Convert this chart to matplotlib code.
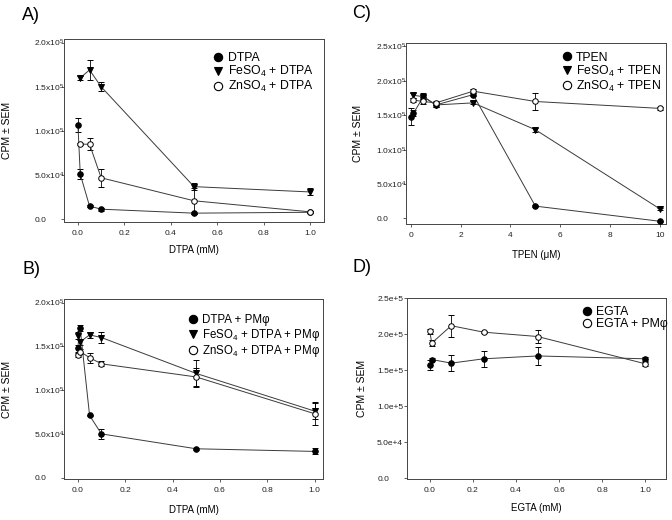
import matplotlib
matplotlib.use('Agg')
import matplotlib.pyplot as plt
from matplotlib.ticker import FixedLocator, FixedFormatter
from matplotlib.lines import Line2D

plt.rcParams['font.family'] = ['Liberation Sans', 'DejaVu Sans']
plt.rcParams['mathtext.default'] = 'regular'

# ---------------- Panel A ----------------
a_dtpa_x = [0, 0.01, 0.05, 0.1, 0.5, 1.0]
a_dtpa_y = [107000, 51000, 15000, 11500, 7000, 8000]
a_dtpa_e = [8000, 5500, 1500, 1500, 1000, 1000]
a_fe_x = [0.01, 0.05, 0.1, 0.5, 1.0]
a_fe_y = [160000, 169000, 150000, 37000, 31000]
a_fe_e = [2000, 11000, 5000, 4000, 4000]
a_zn_x = [0.01, 0.05, 0.1, 0.5, 1.0]
a_zn_y = [85000, 85000, 47000, 21000, 8500]
a_zn_e = [1000, 7000, 10000, 15000, 1000]
a_labels = ['DTPA', 'FeSO$_4$ + DTPA', 'ZnSO$_4$ + DTPA']

# ---------------- Panel B ----------------
b_dtpa_x = [0, 0.01, 0.05, 0.1, 0.5, 1.0]
b_dtpa_y = [148000, 171000, 71000, 50000, 33000, 30000]
b_dtpa_e = [4000, 3000, 1000, 5500, 1000, 3500]
b_fe_x = [0, 0.01, 0.05, 0.1, 0.5, 1.0]
b_fe_y = [162000, 155000, 163000, 160000, 119000, 76000]
b_fe_e = [4000, 3000, 3500, 6000, 15000, 9000]
b_zn_x = [0, 0.01, 0.05, 0.1, 0.5, 1.0]
b_zn_y = [140000, 144000, 137000, 130000, 115000, 73000]
b_zn_e = [2000, 3000, 5500, 3000, 10000, 13000]
b_labels = ['DTPA + PMφ', 'FeSO$_4$ + DTPA + PMφ', 'ZnSO$_4$ + DTPA + PMφ']

# ---------------- Panel C ----------------
c_tpen_x = [0, 0.1, 0.5, 1, 2.5, 5, 10]
c_tpen_y = [148000, 153000, 177000, 165000, 180000, 18000, -4000]
c_tpen_e = [12000, 4000, 3000, 3000, 2000, 1500, 1000]
c_fe_x = [0.1, 0.5, 1, 2.5, 5, 10]
c_fe_y = [179000, 177000, 165000, 168000, 129000, 14000]
c_fe_e = [4000, 5000, 3000, 2000, 3000, 1500]
c_zn_x = [0.1, 0.5, 1, 2.5, 5, 10]
c_zn_y = [172000, 170000, 168000, 185000, 170000, 160000]
c_zn_e = [3000, 4000, 3000, 3000, 13000, 2500]
c_labels = ['TPEN', 'FeSO$_4$ + TPEN', 'ZnSO$_4$ + TPEN']

# ---------------- Panel D ----------------
d_egta_x = [0, 0.01, 0.1, 0.25, 0.5, 1.0]
d_egta_y = [158000, 165000, 160000, 166000, 170000, 166000]
d_egta_e = [7000, 2000, 11000, 11000, 12000, 3000]
d_pm_x = [0, 0.01, 0.1, 0.25, 0.5, 1.0]
d_pm_y = [204000, 188000, 212000, 203000, 197000, 159000]
d_pm_e = [4000, 4000, 15000, 1500, 9000, 3000]
d_labels = ['EGTA', 'EGTA + PMφ']

sup_ticks = [0, 50000, 100000, 150000, 200000, 250000]
sup_labels = ['0.0', '5.0x10$^4$', '1.0x10$^5$', '1.5x10$^5$', '2.0x10$^5$', '2.5x10$^5$']
e_labels = ['0.0', '5.0e+4', '1.0e+5', '1.5e+5', '2.0e+5', '2.5e+5']
x01 = [0.0, 0.2, 0.4, 0.6, 0.8, 1.0]
x01l = ['0.0', '0.2', '0.4', '0.6', '0.8', '1.0']
x10 = [0, 2, 4, 6, 8, 10]
x10l = ['0', '2', '4', '6', '8', '10']

W, H = 672, 520
fig = plt.figure(figsize=(6.72, 5.2), dpi=100)

def mk_ax(l, t, r, b):
    return fig.add_axes([l / W, 1 - b / H, (r - l) / W, (b - t) / H])

STY = {
    'filled_circle': dict(marker='o', mfc='black', mec='black'),
    'tri': dict(marker='v', mfc='black', mec='black'),
    'open_circle': dict(marker='o', mfc='white', mec='black'),
}

def series(ax, x, y, e, kind, label):
    return ax.errorbar(x, y, yerr=e, color='#3a3a3a', lw=0.7, ms=4, mew=0.7,
                       ecolor='black', elinewidth=0.6, capsize=2.3, capthick=0.6,
                       label=label, zorder=3, **STY[kind])

def style(ax, xlim, ylim, xticks, xticklabels, yticks, yticklabels,
          xlabel, xl_y, yl_x):
    ax.set_xlim(*xlim)
    ax.set_ylim(*ylim)
    ax.xaxis.set_major_locator(FixedLocator(xticks))
    ax.xaxis.set_major_formatter(FixedFormatter(xticklabels))
    ax.yaxis.set_major_locator(FixedLocator(yticks))
    ax.yaxis.set_major_formatter(FixedFormatter(yticklabels))
    for s in ax.spines.values():
        s.set_color('#444444')
        s.set_linewidth(0.7)
    ax.tick_params(axis='x', direction='out', length=2.5, width=0.6,
                   labelsize=6, pad=3, colors='#444444', labelcolor='#222222')
    ax.tick_params(axis='y', direction='out', length=2.5, width=0.6,
                   labelsize=6, pad=19, colors='#444444', labelcolor='#222222')
    for lbl in ax.get_yticklabels():
        lbl.set_horizontalalignment('left')
    ax.set_xlabel(xlabel, fontsize=7)
    ax.set_ylabel('CPM ± SEM', fontsize=7.5)
    ax.xaxis.set_label_coords(0.5, xl_y)
    ax.yaxis.set_label_coords(yl_x, 0.5)

def place_legend(ax, kinds, labels, x, y, fs, sp=0.0):
    handles = [Line2D([], [], linestyle='none', ms=6, mew=0.8, **STY[k]) for k in kinds]
    ax.legend(handles, labels, loc='upper left', bbox_to_anchor=(x, y),
              frameon=False, fontsize=fs, borderpad=0, borderaxespad=0,
              labelspacing=sp, handletextpad=0.35, handlelength=0.8)

# --- A ---
axA = mk_ax(64, 39, 324, 222)
series(axA, a_dtpa_x, a_dtpa_y, a_dtpa_e, 'filled_circle', a_labels[0])
series(axA, a_fe_x, a_fe_y, a_fe_e, 'tri', a_labels[1])
series(axA, a_zn_x, a_zn_y, a_zn_e, 'open_circle', a_labels[2])
style(axA, (-0.06, 1.06), (-3000, 204000), x01, x01l, sup_ticks[:5], sup_labels[:5],
      'DTPA (mM)', -0.125, -0.2)
place_legend(axA, ['filled_circle', 'tri', 'open_circle'], a_labels, 0.575, 0.93, 8.8)

# --- C ---
axC = mk_ax(406, 43, 666, 224)
series(axC, c_tpen_x, c_tpen_y, c_tpen_e, 'filled_circle', c_labels[0])
series(axC, c_fe_x, c_fe_y, c_fe_e, 'tri', c_labels[1])
series(axC, c_zn_x, c_zn_y, c_zn_e, 'open_circle', c_labels[2])
style(axC, (-0.2, 10.25), (-8000, 255000), x10, x10l, sup_ticks, sup_labels,
      'TPEN (μM)', -0.145, -0.165)
place_legend(axC, ['filled_circle', 'tri', 'open_circle'], c_labels, 0.60, 0.953, 8.8)

# --- B ---
axB = mk_ax(64, 299, 323, 479)
series(axB, b_dtpa_x, b_dtpa_y, b_dtpa_e, 'filled_circle', b_labels[0])
series(axB, b_fe_x, b_fe_y, b_fe_e, 'tri', b_labels[1])
series(axB, b_zn_x, b_zn_y, b_zn_e, 'open_circle', b_labels[2])
style(axB, (-0.058, 1.035), (-1500, 204000), x01, x01l, sup_ticks[:5], sup_labels[:5],
      'DTPA (mM)', -0.145, -0.2)
place_legend(axB, ['filled_circle', 'tri', 'open_circle'], b_labels, 0.48, 0.915, 8.3, 0.05)

# --- D ---
axD = mk_ax(407, 298, 666, 479)
series(axD, d_egta_x, d_egta_y, d_egta_e, 'filled_circle', d_labels[0])
series(axD, d_pm_x, d_pm_y, d_pm_e, 'open_circle', d_labels[1])
style(axD, (-0.105, 1.095), (-1000, 250500), x01, x01l, sup_ticks, e_labels,
      'EGTA (mM)', -0.133, -0.154)
place_legend(axD, ['filled_circle', 'open_circle'], d_labels, 0.675, 0.955, 8.8)

for txt, x, y in [('A)', 22, 15), ('C)', 352, 13), ('B)', 22, 270), ('D)', 352, 268)]:
    fig.text(x / W, 1 - y / H, txt, fontsize=13, ha='left', va='center')

fig.savefig('out.png', dpi=100)
